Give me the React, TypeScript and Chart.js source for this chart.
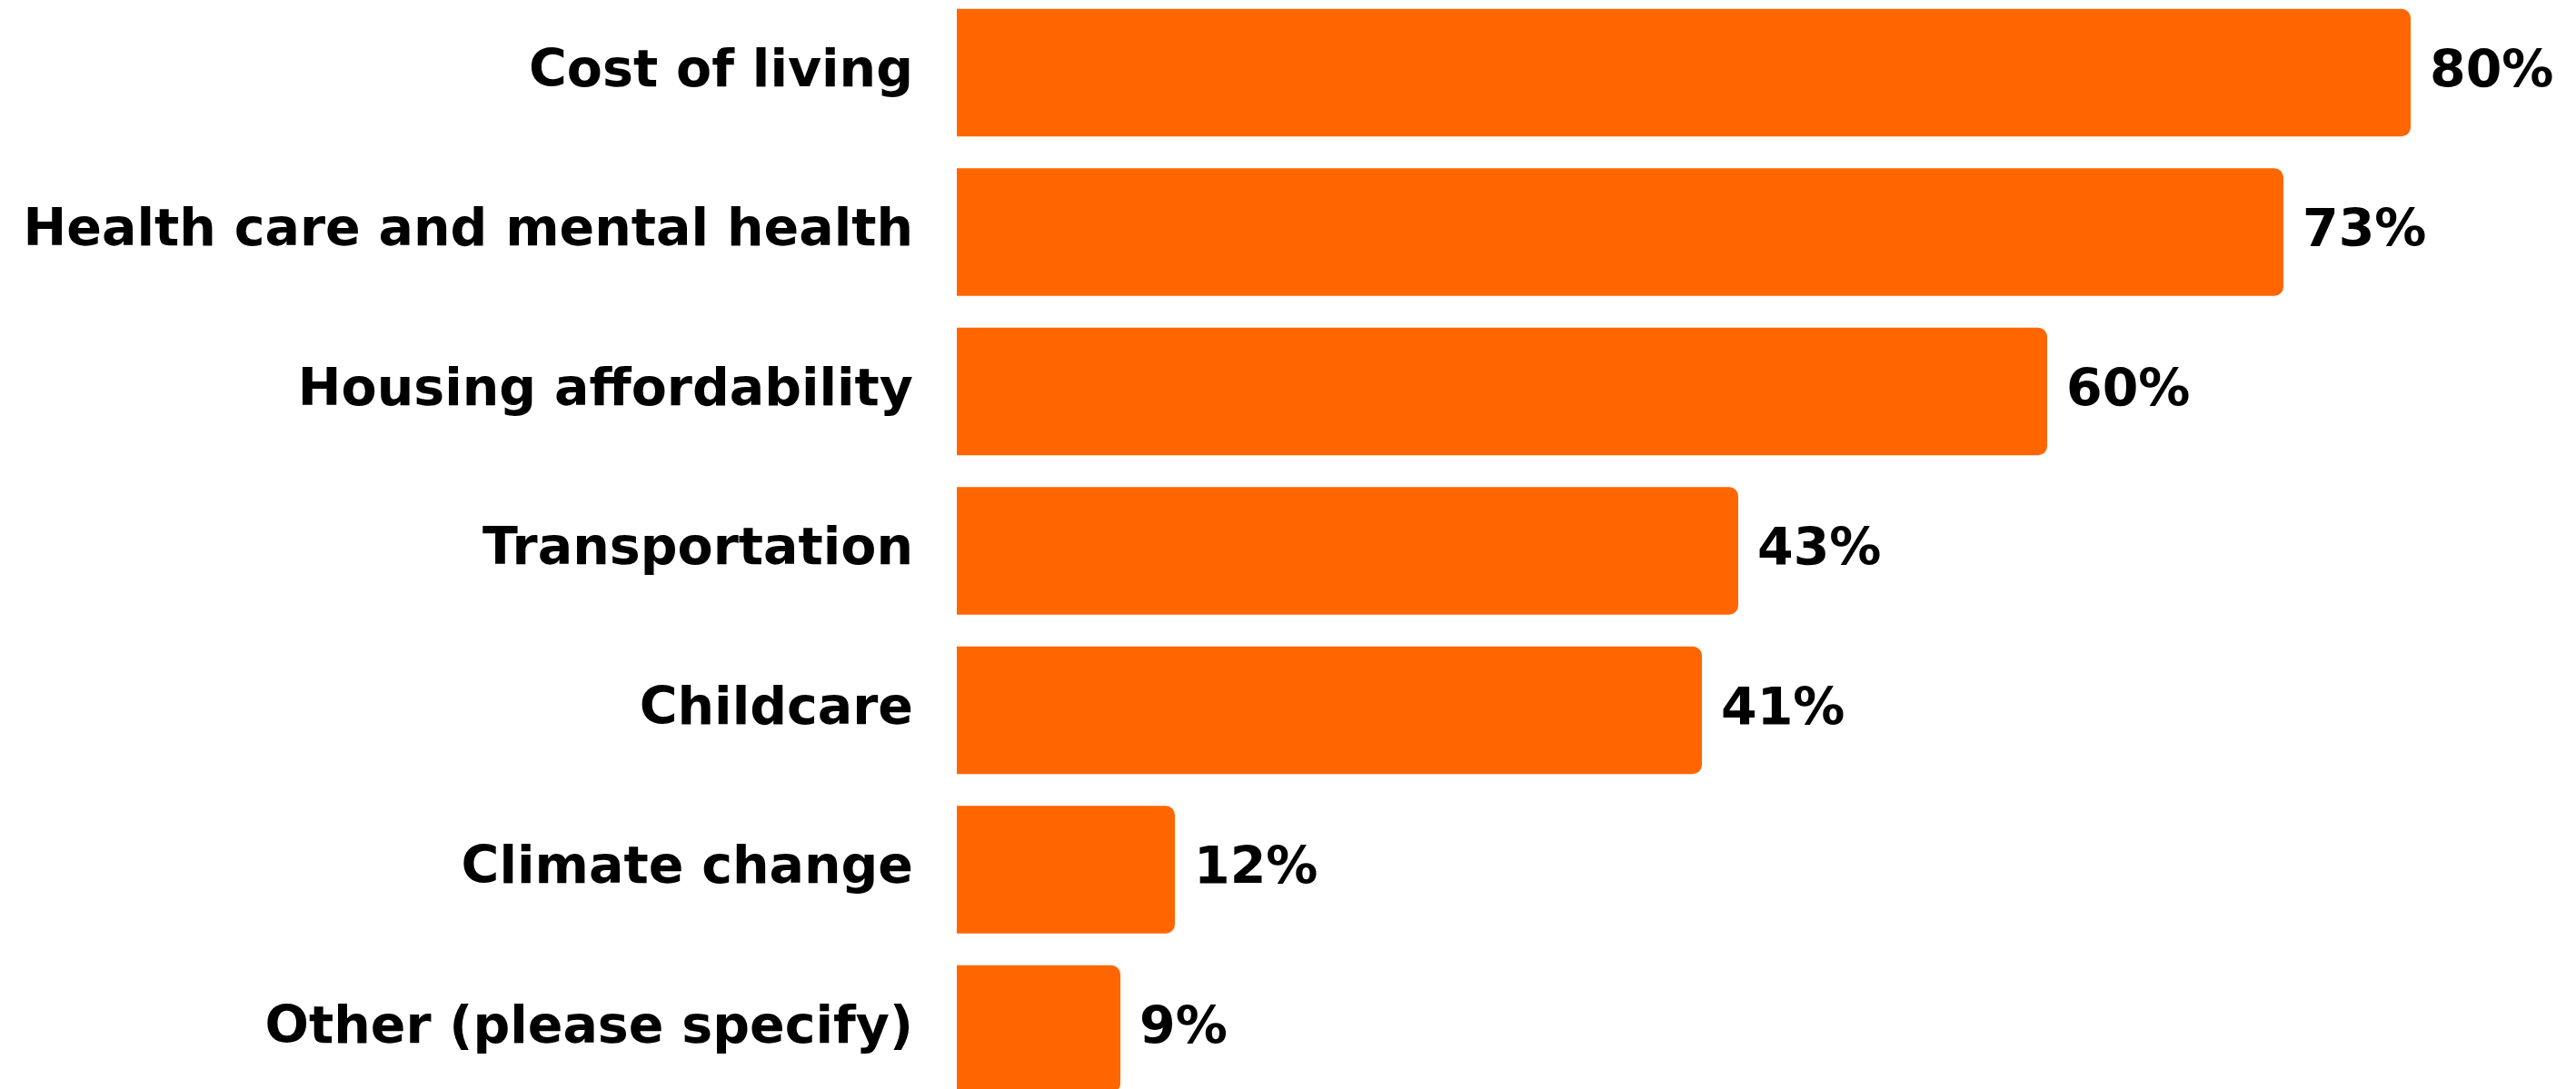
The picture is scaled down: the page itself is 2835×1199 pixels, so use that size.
import React, { useEffect, useRef } from "react";
import { Chart, registerables } from "chart.js";

Chart.register(...registerables);

const categories = [
  "Cost of living",
  "Health care and mental health",
  "Housing affordability",
  "Transportation",
  "Childcare",
  "Climate change",
  "Other (please specify)",
];
const percentages = [80, 73, 60, 43, 41, 12, 9];
const valueLabels = ["80%", "73%", "60%", "43%", "41%", "12%", "9%"];

const BAR_COLOR = "#FF6600";
const FONT_FAMILY = "'DejaVu Sans', sans-serif";
const FONT_SIZE = 57;
const TICK_PADDING = 48;
// The y axis reserves half a label line plus the tick padding above and below the plot.
const AXIS_OVERHANG = (FONT_SIZE * 1.2) / 2 + TICK_PADDING;
const PLOT_HEIGHT = 1228.5;
const CANVAS_HEIGHT = Math.round(PLOT_HEIGHT + 2 * AXIS_OVERHANG);
const CANVAS_TOP = Math.round(-7.75 - AXIS_OVERHANG);

// Draws the percentage text just past the end of each bar.
const valueLabelPlugin = {
  id: "valueLabels",
  afterDatasetsDraw(chart: any) {
    const ctx = chart.ctx;
    const meta = chart.getDatasetMeta(0);
    ctx.save();
    ctx.font = `bold ${FONT_SIZE}px ${FONT_FAMILY}`;
    ctx.fillStyle = "#000000";
    ctx.textAlign = "left";
    ctx.textBaseline = "middle";
    meta.data.forEach((bar: any, i: number) => {
      ctx.fillText(valueLabels[i], bar.x + 21, bar.y + 1);
    });
    ctx.restore();
  },
};

export default function App() {
  const canvasRef = useRef<HTMLCanvasElement | null>(null);

  useEffect(() => {
    if (!canvasRef.current) return;
    const chart = new Chart(canvasRef.current, {
      type: "bar",
      data: {
        labels: categories,
        datasets: [
          {
            data: percentages,
            backgroundColor: BAR_COLOR,
            borderRadius: 10,
            borderSkipped: "start",
            barPercentage: 0.8,
            categoryPercentage: 1,
          },
        ],
      },
      options: {
        indexAxis: "y",
        animation: false,
        responsive: false,
        devicePixelRatio: 1,
        layout: { padding: 0 },
        plugins: {
          legend: { display: false },
          tooltip: { enabled: false },
        },
        scales: {
          x: {
            display: false,
            min: 0,
            max: 89.1,
          },
          y: {
            grid: { display: false, drawTicks: false },
            border: { display: false },
            ticks: {
              padding: TICK_PADDING,
              color: "#000000",
              font: { family: FONT_FAMILY, size: FONT_SIZE, weight: "bold", lineHeight: 1.2 },
            },
            afterFit(scale: any) {
              scale.width = 1053;
            },
          },
        },
      },
      plugins: [valueLabelPlugin],
    });
    return () => chart.destroy();
  }, []);

  return (
    <canvas
      ref={canvasRef}
      width={2835}
      height={CANVAS_HEIGHT}
      style={{
        position: "fixed",
        left: 0,
        top: CANVAS_TOP,
        width: 2835,
        height: CANVAS_HEIGHT,
        background: "#ffffff",
      }}
    />
  );
}
